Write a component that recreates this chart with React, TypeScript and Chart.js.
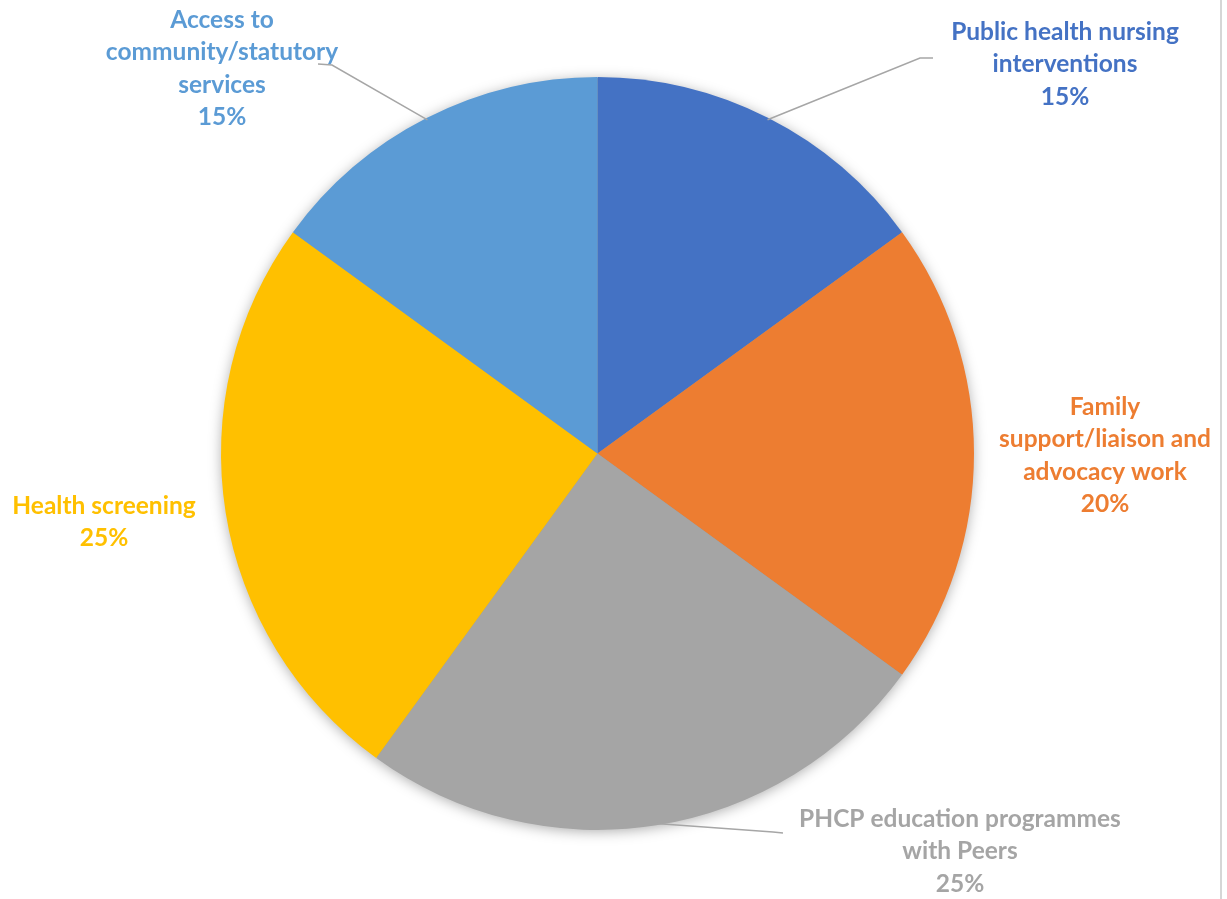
import React, { useEffect, useRef } from "react";
import { Chart, registerables } from "chart.js";

Chart.register(...registerables);

const categories = [
  "Public health nursing interventions",
  "Family support/liaison and advocacy work",
  "PHCP education programmes with Peers",
  "Health screening",
  "Access to community/statutory services",
];
const values = [15, 20, 25, 25, 15];
const colors = ["#4472C4", "#ED7D31", "#A5A5A5", "#FFC000", "#5B9BD5"];
const labelLines = [
  ["Public health nursing", "interventions"],
  ["Family", "support/liaison and", "advocacy work"],
  ["PHCP education programmes", "with Peers"],
  ["Health screening"],
  ["Access to", "community/statutory", "services"],
];

// layout of the labels (text centre x, first line y) and leader lines
const labelLayout = [
  { x: 1065, y: 32, leader: [[933, 58], [920, 58]] },
  { x: 1105, y: 407, leader: null },
  { x: 960, y: 819, leader: [[783, 833], [773, 832]] },
  { x: 104, y: 506, leader: null },
  { x: 222, y: 20, leader: [[318, 64], [332, 65]] },
];

const FONT = "bold 24.5px Lato";
const LINE_H = 32.5;

const labelPlugin = {
  id: "outerLabels",
  beforeDatasetsDraw(chart: any) {
    const meta = chart.getDatasetMeta(0);
    const arc = meta.data[0];
    if (!arc) return;
    const ctx = chart.ctx;
    ctx.save();
    ctx.shadowColor = "rgba(0,0,0,0.35)";
    ctx.shadowBlur = 14;
    ctx.shadowOffsetX = 0;
    ctx.shadowOffsetY = 2;
    ctx.fillStyle = "#999";
    ctx.beginPath();
    ctx.arc(arc.x, arc.y, arc.outerRadius - 1, 0, Math.PI * 2);
    ctx.fill();
    ctx.restore();
  },
  afterDatasetsDraw(chart: any) {
    const ctx = chart.ctx;
    const meta = chart.getDatasetMeta(0);
    const total = values.reduce((a, b) => a + b, 0);
    ctx.save();
    meta.data.forEach((arc: any, i: number) => {
      const lay = labelLayout[i];
      if (lay.leader) {
        const mid = (arc.startAngle + arc.endAngle) / 2;
        const ex = arc.x + Math.cos(mid) * (arc.outerRadius - 2);
        const ey = arc.y + Math.sin(mid) * (arc.outerRadius - 2);
        ctx.strokeStyle = "#A6A6A6";
        ctx.lineWidth = 1.5;
        ctx.beginPath();
        ctx.moveTo(lay.leader[0][0], lay.leader[0][1]);
        ctx.lineTo(lay.leader[1][0], lay.leader[1][1]);
        ctx.lineTo(ex, ey);
        ctx.stroke();
      }
      const lines = [...labelLines[i], Math.round((values[i] / total) * 100) + "%"];
      ctx.fillStyle = colors[i];
      ctx.font = FONT;
      ctx.textAlign = "center";
      ctx.textBaseline = "middle";
      lines.forEach((t: string, k: number) => {
        ctx.fillText(t, lay.x, lay.y + k * LINE_H);
      });
    });
    ctx.restore();
  },
};

export default function App() {
  const ref = useRef<HTMLCanvasElement>(null);
  useEffect(() => {
    if (!ref.current) return;
    const chart = new Chart(ref.current, {
      type: "pie",
      data: {
        labels: categories,
        datasets: [
          {
            data: values,
            backgroundColor: colors,
            borderWidth: 0,
          },
        ],
      },
      options: {
        animation: false,
        responsive: false,
        maintainAspectRatio: false,
        layout: { padding: { top: 77, bottom: 69, left: 221, right: 253 } },
        plugins: { legend: { display: false }, tooltip: { enabled: false } },
      },
      plugins: [labelPlugin],
    });
    return () => chart.destroy();
  }, []);
  return (
    <div style={{ position: "fixed", left: 0, top: 0, width: 1227, height: 899, background: "#fff" }}>
      <canvas ref={ref} width={1227} height={899} style={{ width: 1227, height: 899 }} />
      <div style={{ position: "absolute", left: 1220, top: 0, width: 2, height: 899, background: "#D6D6D6" }} />
    </div>
  );
}
